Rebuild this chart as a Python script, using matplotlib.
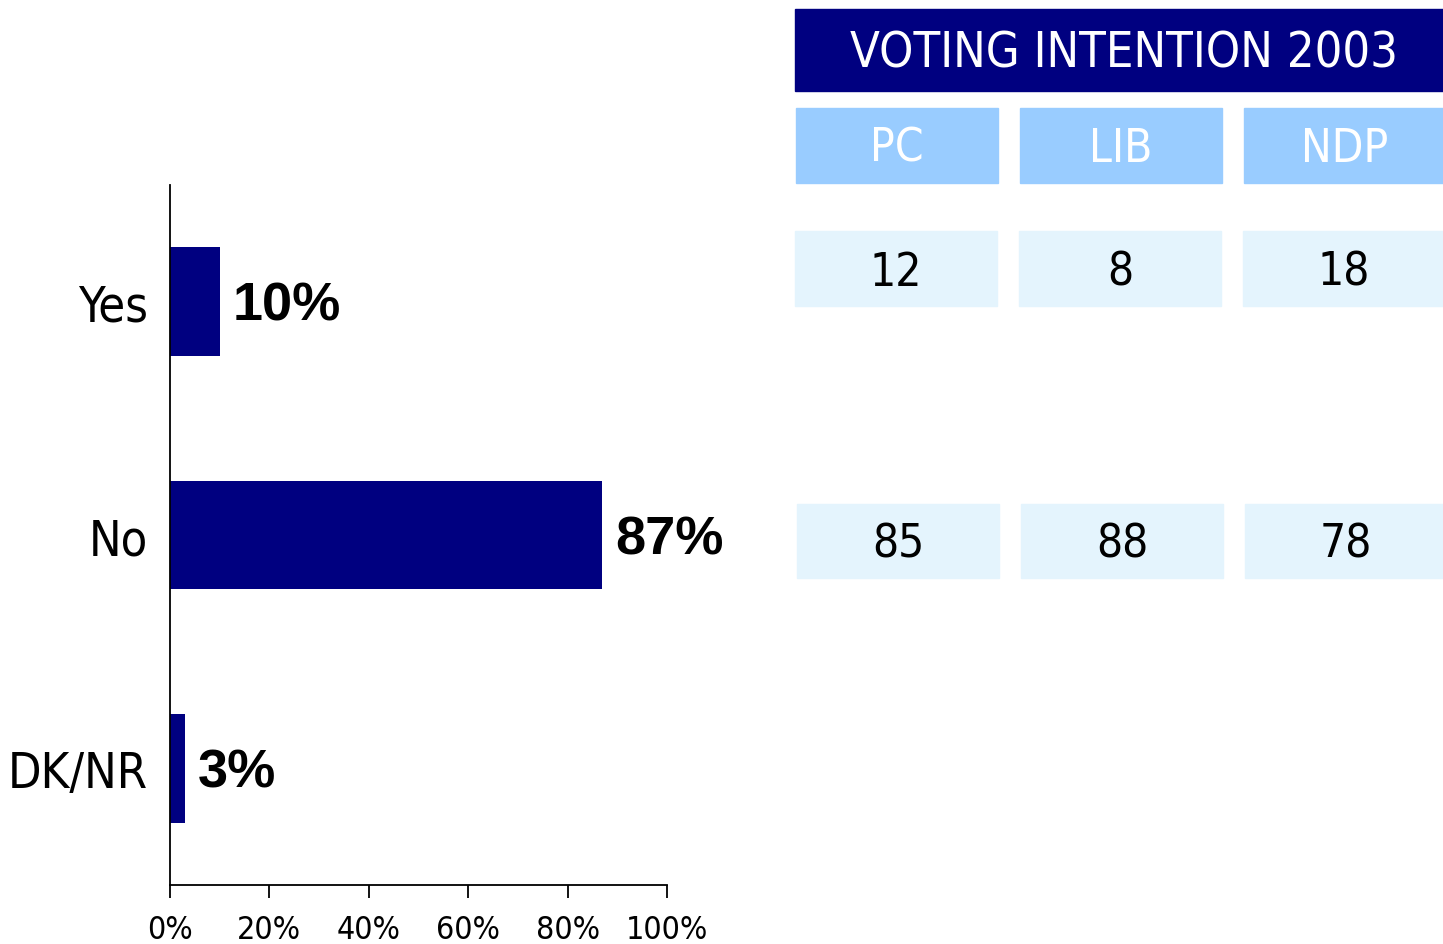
import matplotlib
matplotlib.use('Agg')
import matplotlib.pyplot as plt
from matplotlib.patches import Rectangle

# chart data
categories = ['Yes', 'No', 'DK/NR']
values = [10, 87, 3]
x_ticks = [0, 20, 40, 60, 80, 100]

# table data
table_title = 'VOTING INTENTION 2003'
parties = ['PC', 'LIB', 'NDP']
yes_by_party = [12, 8, 18]
no_by_party = [85, 88, 78]

# no Arial Narrow here, condensed DejaVu is the closest
narrow = dict(family='DejaVu Sans', fontstretch='condensed')

navy = '#000080'
light_blue = '#99ccff'
pale = '#e4f4fd'

fig = plt.figure(figsize=(14.43, 9.45), dpi=100)

ax = fig.add_axes([170/1443, 59/945, 497/1443, 700/945])
ax.barh(range(len(categories)), values, height=0.465, color=navy)
ax.set_ylim(2.5, -0.5)
ax.set_xlim(0, 100)
ax.set_yticks(range(len(categories)))
ax.set_yticklabels(categories, fontsize=35, **narrow)
ax.set_xticks(x_ticks)
ax.set_xticklabels([f'{t}%' for t in x_ticks], fontsize=23, **narrow)
ax.tick_params(axis='y', length=0, pad=16)
ax.tick_params(axis='x', length=9, width=1.3, direction='out', pad=12)
for s in ['top', 'right']:
    ax.spines[s].set_visible(False)
for s in ['left', 'bottom']:
    ax.spines[s].set_linewidth(1.3)

for i, v in enumerate(values):
    ax.annotate(f'{v}%', (v, i), xytext=(9, -3), textcoords='offset points',
                va='center', ha='left', fontsize=39, fontweight='bold',
                family='Liberation Sans')

# table on the right, drawn in pixel space
tab = fig.add_axes([0, 0, 1, 1])
tab.set_xlim(0, 1443)
tab.set_ylim(945, 0)
tab.axis('off')

tab.add_patch(Rectangle((795, 10), 648, 82, color=navy))
tab.text(1124, 54, table_title, color='white', fontsize=35, ha='center', va='center', **narrow)

col_x = [796, 1020, 1244]
col_w = 202
for x, p in zip(col_x, parties):
    tab.add_patch(Rectangle((x, 109), col_w, 75, color=light_blue))
    tab.text(x + col_w/2, 149, p, color='white', fontsize=33,
             ha='center', va='center', **narrow)

for x, v in zip(col_x, yes_by_party):
    tab.add_patch(Rectangle((x - 1, 232), col_w, 75, color=pale))
    tab.text(x + col_w/2 - 1, 273, str(v), color='black', fontsize=33,
             ha='center', va='center', **narrow)

for x, v in zip(col_x, no_by_party):
    tab.add_patch(Rectangle((x + 1, 505), col_w, 74, color=pale))
    tab.text(x + col_w/2 + 1, 545, str(v), color='black', fontsize=33,
             ha='center', va='center', **narrow)

fig.savefig('out.png', dpi=100)
